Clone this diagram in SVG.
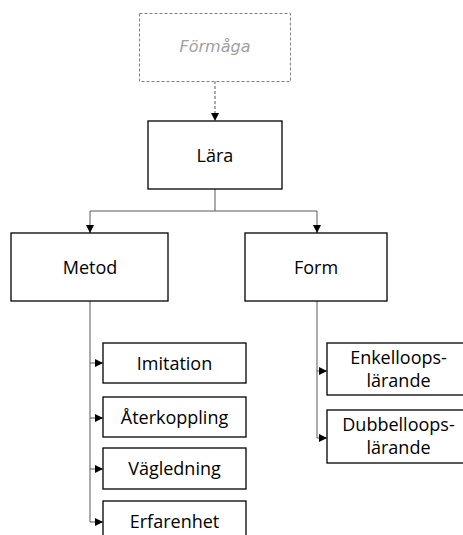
<svg xmlns="http://www.w3.org/2000/svg" width="463" height="535" viewBox="0 0 463 535">
  <style>
    .box { fill: #ffffff; stroke: #000000; stroke-width: 1.3; }
    .ghost { fill: #ffffff; stroke: #7f7f7f; stroke-width: 1; stroke-dasharray: 3 2; }
    .lbl { font-family: "Open Sans", "Noto Sans", "Liberation Sans", sans-serif; font-size: 18px; fill: #000000; text-anchor: middle; }
    .ghost-lbl { font-family: "DejaVu Sans", "Liberation Sans", sans-serif; font-size: 16px; font-style: italic; fill: #a0a0a0; text-anchor: middle; }
    .wire { fill: none; stroke: #595959; stroke-width: 1; }
    .dash { stroke-dasharray: 3 2; }
  </style>
  <defs>
    <marker id="tri" viewBox="0 0 8 8" refX="8" refY="4" markerWidth="8" markerHeight="8" markerUnits="userSpaceOnUse" orient="auto">
      <path d="M0,0 L8,4 L0,8 Z" fill="#000000"/>
    </marker>
  </defs>

  <g id="connectors">
    <line class="wire dash" x1="215" y1="81" x2="215" y2="121" marker-end="url(#tri)"/>
    <polyline class="wire" points="215,189 215,211 90,211 90,233" marker-end="url(#tri)"/>
    <polyline class="wire" points="215,211 317,211 317,233" marker-end="url(#tri)"/>
    <polyline class="wire" points="90,301 90,363 103,363" marker-end="url(#tri)"/>
    <polyline class="wire" points="90,363 90,418 103,418" marker-end="url(#tri)"/>
    <polyline class="wire" points="90,418 90,469 103,469" marker-end="url(#tri)"/>
    <polyline class="wire" points="90,469 90,522 103,522" marker-end="url(#tri)"/>
    <polyline class="wire" points="317,301 317,371 327,371" marker-end="url(#tri)"/>
    <polyline class="wire" points="317,371 317,438 327,438" marker-end="url(#tri)"/>
  </g>

  <g id="formaga">
    <rect class="ghost" x="139.5" y="13.5" width="151" height="68"/>
    <text class="ghost-lbl" x="215" y="52">Förmåga</text>
  </g>
  <g id="lara">
    <rect class="box" x="148" y="121" width="134" height="68"/>
    <text class="lbl" x="215" y="162">Lära</text>
  </g>
  <g id="metod">
    <rect class="box" x="11" y="233" width="157" height="68"/>
    <text class="lbl" x="90" y="274">Metod</text>
  </g>
  <g id="form">
    <rect class="box" x="245" y="233" width="142" height="68"/>
    <text class="lbl" x="316" y="274">Form</text>
  </g>
  <g id="imitation">
    <rect class="box" x="103" y="343" width="143" height="40"/>
    <text class="lbl" x="174.5" y="370">Imitation</text>
  </g>
  <g id="aterkoppling">
    <rect class="box" x="103" y="397" width="143" height="40"/>
    <text class="lbl" x="174.5" y="424">Återkoppling</text>
  </g>
  <g id="vagledning">
    <rect class="box" x="103" y="448" width="143" height="41"/>
    <text class="lbl" x="174.5" y="475">Vägledning</text>
  </g>
  <g id="erfarenhet">
    <rect class="box" x="103" y="501" width="143" height="40"/>
    <text class="lbl" x="174.5" y="528">Erfarenhet</text>
  </g>
  <g id="enkelloop">
    <rect class="box" x="327" y="343" width="143" height="52"/>
    <text class="lbl" x="398.5" y="364">Enkelloops-</text>
    <text class="lbl" x="398.5" y="387">lärande</text>
  </g>
  <g id="dubbelloop">
    <rect class="box" x="327" y="410" width="143" height="53"/>
    <text class="lbl" x="398.5" y="431">Dubbelloops-</text>
    <text class="lbl" x="398.5" y="454">lärande</text>
  </g>
</svg>
